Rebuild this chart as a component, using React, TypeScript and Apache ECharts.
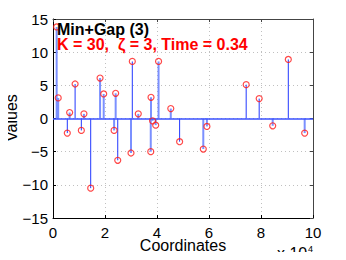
import React, { useEffect, useRef } from "react";
import * as echarts from "echarts";

const lightX = [1400, 2000, 6400, 11900, 18100, 19500, 23500, 24100, 30000, 32800, 37600, 37700, 38300, 39500, 40600, 45300, 57800, 59200, 84500, 96800];
const lightY = [13.8, 3.1, 0.9, 0.7, 6.1, 3.7, -1.8, 3.8, -5.2, 0.7, -5.0, 3.2, -0.35, -1.0, 8.6, 1.5, -4.6, -1.2, -1.1, -2.2];
const darkX = [5500, 8500, 10900, 14500, 24900, 30500, 48700, 74300, 79300, 90500];
const darkY = [-2.2, 5.2, -1.8, -10.5, -6.3, 8.6, -3.5, 5.1, 3.0, 8.9];
const xTicks = [0, 2, 4, 6, 8, 10];
const yTicks = [-15, -10, -5, 0, 5, 10, 15];
const titleText = "Min+Gap (3)";
const infoText = "K = 30,  \u03B6 = 3, Time = 0.34";
const xName = "Coordinates";
const yName = "Values";

const FONT = "Liberation Sans, Arial, Helvetica, sans-serif";

function stemSeries(xs: number[], ys: number[], color: string, width: number) {
  return {
    type: "custom",
    xAxisIndex: 0,
    yAxisIndex: 0,
    data: xs.map((x, i) => [x, ys[i]]),
    renderItem: (params: any, api: any) => {
      const p0 = api.coord([api.value(0), 0]);
      const p1 = api.coord([api.value(0), api.value(1)]);
      return {
        type: "line",
        shape: { x1: p0[0], y1: p0[1], x2: p1[0], y2: p1[1] },
        style: { stroke: color, lineWidth: width },
      };
    },
    silent: true,
  };
}

export default function App() {
  const ref = useRef<HTMLDivElement>(null);
  useEffect(() => {
    if (!ref.current) return;
    const chart = echarts.init(ref.current, undefined, { renderer: "svg" });
    const allPts = lightX.map((x, i) => [x, lightY[i]]).concat(darkX.map((x, i) => [x, darkY[i]]));
    const minus = (v: number) => String(v).replace("-", "\u2212");
    chart.setOption({
      animation: false,
      backgroundColor: "#ffffff",
      grid: { left: 53, right: 33, top: 19, bottom: 42, show: false, containLabel: false, outerBoundsMode: "none" },
      xAxis: [
        {
          type: "value",
          min: 0,
          max: 100000,
          interval: 20000,
          position: "bottom",
          axisLine: { show: true, onZero: false, lineStyle: { color: "#000", width: 1 } },
          axisTick: { show: true, inside: true, length: 3, lineStyle: { color: "#000" } },
          axisLabel: {
            color: "#000",
            fontSize: 15,
            lineHeight: 11,
            fontFamily: FONT,
            margin: 9,
            formatter: (v: number) => {
              const t = v / 10000;
              return xTicks.includes(t) ? String(t) : "";
            },
          },
          splitLine: { show: true, lineStyle: { color: "#c0c0c0", type: [1, 3], width: 1 } },
        },
        {
          type: "value",
          min: 0,
          max: 100000,
          interval: 20000,
          position: "top",
          axisLine: { show: true, onZero: false, lineStyle: { color: "#444", width: 1 } },
          axisTick: { show: true, inside: true, length: 3, lineStyle: { color: "#444" } },
          axisLabel: { show: false },
          splitLine: { show: false },
        },
      ],
      yAxis: [
        {
          type: "value",
          min: -15,
          max: 15,
          interval: 5,
          position: "left",
          axisLine: { show: true, onZero: false, lineStyle: { color: "#000", width: 1 } },
          axisTick: { show: true, inside: true, length: 3, lineStyle: { color: "#000" } },
          axisLabel: {
            color: "#000",
            fontSize: 15,
            fontFamily: FONT,
            margin: 5,
            formatter: (v: number) => (yTicks.includes(v) ? minus(v) : ""),
          },
          splitLine: { show: true, lineStyle: { color: "#c0c0c0", type: [1, 3], width: 1 } },
        },
        {
          type: "value",
          min: -15,
          max: 15,
          interval: 5,
          position: "right",
          axisLine: { show: true, onZero: false, lineStyle: { color: "#444", width: 1 } },
          axisTick: { show: true, inside: true, length: 3, lineStyle: { color: "#444" } },
          axisLabel: { show: false },
          splitLine: { show: false },
        },
      ],
      series: [
        stemSeries(lightX, lightY, "rgba(100,125,255,0.85)", 2),
        stemSeries(darkX, darkY, "#2238ff", 1),
        {
          type: "scatter",
          xAxisIndex: 0,
          yAxisIndex: 0,
          data: allPts,
          symbol: "circle",
          symbolSize: 6,
          itemStyle: { color: "rgba(255,255,255,0)", borderColor: "#ff1a1a", borderWidth: 1.2 },
          markLine: {
            silent: true,
            symbol: "none",
            label: { show: false },
            lineStyle: { color: "#3a50ff", type: "solid", width: 1.5 },
            data: [{ yAxis: 0 }],
          },
          z: 5,
        },
      ],
      graphic: [
        {
          type: "text",
          left: 57,
          top: 21,
          style: { text: titleText, fill: "#000", font: `bold 16px ${FONT}`, lineHeight: 14 },
          z: 10,
        },
        {
          type: "text",
          left: 57,
          top: 36,
          style: { text: infoText, fill: "#ff0000", font: `bold 16px ${FONT}`, lineHeight: 14 },
          z: 10,
        },
        {
          type: "text",
          x: 183,
          y: 245.5,
          style: { text: xName, fill: "#000", font: `16px ${FONT}`, lineHeight: 13, align: "center", verticalAlign: "middle", textAlign: "center", textVerticalAlign: "middle" },
          z: 10,
        },
        {
          type: "text",
          x: 11,
          y: 118,
          rotation: Math.PI / 2,
          style: { text: yName, fill: "#000", font: `16px ${FONT}`, align: "center", verticalAlign: "middle", textAlign: "center", textVerticalAlign: "middle" },
          z: 10,
        },
        {
          type: "text",
          x: 277,
          y: 253,
          style: { text: "x 10", fill: "#000", font: `16px ${FONT}`, lineHeight: 12, align: "left", verticalAlign: "middle", textAlign: "left", textVerticalAlign: "middle" },
          z: 10,
        },
        {
          type: "text",
          x: 308,
          y: 249,
          style: { text: "4", fill: "#000", font: `9px ${FONT}`, align: "left", verticalAlign: "middle", textAlign: "left", textVerticalAlign: "middle" },
          z: 10,
        },
      ],
    });
    return () => chart.dispose();
  }, []);
  return <div ref={ref} style={{ width: 346, height: 260, margin: -8 }} />;
}
